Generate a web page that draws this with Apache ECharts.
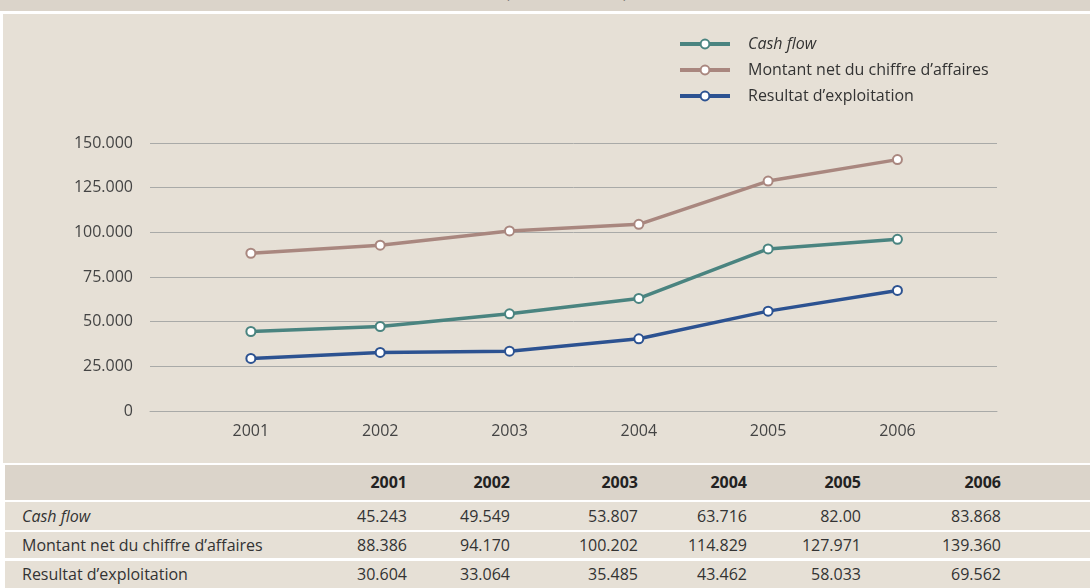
<!DOCTYPE html>
<html>
<head>
<meta charset="utf-8">
<script src="https://cdn.jsdelivr.net/npm/echarts@6/dist/echarts.min.js"></script>
<style>
	html, body {
		margin: 0;
		padding: 0;
		background: #ffffff;
		font-family: "Open Sans", "Noto Sans", sans-serif;
		color: #333;
	}
	.page {
		position: relative;
		width: 1090px;
		height: 588px;
		overflow: hidden;
	}
	.topstrip {
		position: absolute;
		left: 0;
		top: 0;
		width: 1090px;
		height: 11px;
		background: #dbd4ca;
		overflow: hidden;
	}
	.topstrip span {
		position: absolute;
		top: -19px;
		font-size: 16px;
		color: #222;
	}
	#chart {
		position: absolute;
		left: 3px;
		top: 14px;
		width: 1087px;
		height: 449px;
		background: #e6e0d6;
	}
	.row {
		position: absolute;
		left: 5px;
		width: 1085px;
		background: #e6e0d6;
	}
	.row.head {
		background: #dbd4ca;
		font-weight: bold;
		color: #222;
	}
	.cell {
		position: absolute;
		top: 0;
		font-size: 16px;
		white-space: nowrap;
	}
	.num {
		width: 120px;
		text-align: right;
	}
</style>
</head>
<body>
<div class="page">
	<div class="topstrip">
		<span style="left: 455px; font-weight: bold;">K€</span>
		<span style="left: 505px;">(milliers d’euros)</span>
	</div>
	<div id="chart"></div>
	<div id="table"></div>
</div>
<script>
// valeurs
const years = [2001, 2002, 2003, 2004, 2005, 2006];
const cashFlow = [44500, 47300, 54400, 63000, 90700, 96100];
const montantNet = [88300, 92800, 100800, 104500, 128700, 140700];
const resultat = [29400, 32800, 33500, 40400, 55900, 67500];

// valeurs du tableau
const tableYears = ['2001', '2002', '2003', '2004', '2005', '2006'];
const tableCash = ['45.243', '49.549', '53.807', '63.716', '82.00', '83.868'];
const tableMontant = ['88.386', '94.170', '100.202', '114.829', '127.971', '139.360'];
const tableResultat = ['30.604', '33.064', '35.485', '43.462', '58.033', '69.562'];

const names = ['Cash flow', 'Montant net du chiffre d’affaires', 'Resultat d’exploitation'];
const colors = ['#4a8480', '#a9877f', '#2c5291'];

function formatThousands(v) {
	if (v === 0) return '0';
	const s = String(Math.round(v));
	return s.replace(/\B(?=(\d{3})+(?!\d))/g, '.');
}

function makeSeries(name, values, color) {
	return {
		name: name,
		type: 'line',
		data: years.map((y, i) => [y, values[i]]),
		symbol: 'emptyCircle',
		symbolSize: 9,
		lineStyle: { color: color, width: 3.5 },
		itemStyle: { color: color, borderWidth: 2.5 },
		emphasis: { disabled: true }
	};
}

const chart = echarts.init(document.getElementById('chart'));
chart.setOption({
	backgroundColor: '#e6e0d6',
	animation: false,
	textStyle: { fontFamily: '"Open Sans", "Noto Sans", sans-serif' },
	legend: {
		orient: 'vertical',
		left: 670,
		top: 17,
		itemWidth: 50,
		itemHeight: 11,
		itemGap: 10,
		data: names,
		lineStyle: { width: 4 },
		itemStyle: { borderWidth: 2.5 },
		formatter: function (name) {
			return name === 'Cash flow' ? '{i|' + name + '}' : name;
		},
		textStyle: {
			fontSize: 16,
			color: '#333',
			padding: [0, 0, 0, 13],
			rich: {
				i: { fontStyle: 'italic', fontSize: 16, color: '#333' }
			}
		}
	},
	grid: {
		left: 147,
		right: 93,
		top: 129,
		bottom: 52
	},
	xAxis: {
		type: 'value',
		min: 2000.22,
		max: 2006.77,
		axisLine: { show: true, lineStyle: { color: '#a9aaa8', width: 1 } },
		axisTick: { show: false },
		splitLine: { show: false },
		axisLabel: {
			showMinLabel: false,
			showMaxLabel: false,
			margin: 12,
			fontSize: 16,
			color: '#444',
			formatter: function (v) {
				return Number.isInteger(v) ? String(v) : '';
			}
		}
	},
	yAxis: {
		type: 'value',
		min: 0,
		max: 150000,
		interval: 25000,
		axisLine: { show: false },
		axisTick: { show: false },
		splitLine: { lineStyle: { color: '#a9aaa8', width: 1 } },
		axisLabel: {
			margin: 17,
			fontSize: 16,
			color: '#444',
			formatter: formatThousands
		}
	},
	series: [
		makeSeries(names[0], cashFlow, colors[0]),
		makeSeries(names[1], montantNet, colors[1]),
		makeSeries(names[2], resultat, colors[2])
	]
});

// tableau sous le graphique
const rowBoxes = [[465, 35], [502, 28], [532, 26], [561, 27]];
const numRight = [407, 510, 638, 747, 861, 1001];
const rows = [
	['', tableYears],
	['<i>Cash flow</i>', tableCash],
	[names[1], tableMontant],
	[names[2], tableResultat]
];
const table = document.getElementById('table');
rows.forEach((r, k) => {
	const div = document.createElement('div');
	div.className = 'row' + (k === 0 ? ' head' : '');
	div.style.top = rowBoxes[k][0] + 'px';
	div.style.height = rowBoxes[k][1] + 'px';
	div.style.lineHeight = rowBoxes[k][1] + 'px';
	let html = '<div class="cell" style="left:17px;line-height:inherit">' + r[0] + '</div>';
	r[1].forEach((v, i) => {
		html += '<div class="cell num" style="left:' + (numRight[i] - 5 - 120) + 'px;line-height:inherit">' + v + '</div>';
	});
	div.innerHTML = html;
	table.appendChild(div);
});
</script>
</body>
</html>
